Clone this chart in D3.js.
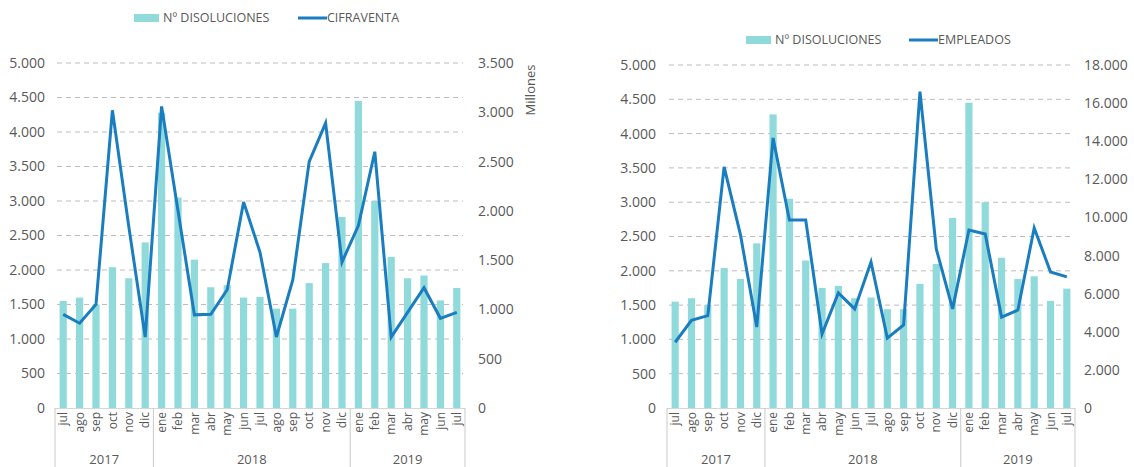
<!DOCTYPE html>
<html>
<head>
<meta charset="utf-8">
<script src="https://cdn.jsdelivr.net/npm/d3@7"></script>
<style>
  html, body { margin: 0; padding: 0; background: #fff; }
  svg { display: block; }
  text { font-family: "Open Sans", "Noto Sans", sans-serif; fill: #595959; }
</style>
</head>
<body>
<svg id="chart" width="1134" height="467"></svg>
<script>
// ---- data ----
const months = ["jul","ago","sep","oct","nov","dic","ene","feb","mar","abr","may","jun","jul","ago","sep","oct","nov","dic","ene","feb","mar","abr","may","jun","jul"];
const yearLabels = ["2017","2018","2019"];
const yearCounts = [6, 12, 7];
const disoluciones = [1550,1600,1500,2040,1880,2400,4280,3050,2150,1750,1780,1600,1610,1440,1440,1810,2100,2770,4450,3000,2190,1880,1920,1560,1740];
const cifraventa = [950,860,1050,3020,1840,720,3060,2000,945,950,1200,2090,1580,720,1300,2500,2890,1480,1850,2600,720,970,1220,910,970];
const empleados = [3450,4600,4850,12650,9100,4250,14170,9870,9870,3885,6040,5200,7660,3670,4360,16600,8350,5200,9340,9130,4770,5140,9450,7140,6880];
const leftTicks = [0,500,1000,1500,2000,2500,3000,3500,4000,4500,5000];
const cifraTicks = [0,500,1000,1500,2000,2500,3000,3500];
const empleadosTicks = [0,2000,4000,6000,8000,10000,12000,14000,16000,18000];
const barName = "Nº DISOLUCIONES";

const BAR = "#90dadc", LINE = "#1a7dc0", GRID = "#bdbdbd", SEP = "#c9c9c9";
const fmt = d3.formatLocale({decimal: ",", thousands: ".", grouping: [3], currency: ["", ""]}).format(",d");
const svg = d3.select("#chart");

function drawChart(cfg) {
  const g = svg.append("g");
  const x = d3.scaleBand().domain(d3.range(months.length)).range([cfg.x0, cfg.x1]).paddingInner(0.56).paddingOuter(0.28);
  const yL = d3.scaleLinear().domain([0, 5000]).range([cfg.yBottom, cfg.yTop]);
  const yR = d3.scaleLinear().domain([0, cfg.rightMax]).range([cfg.yBottom, cfg.yTop]);

  // gridlines
  g.append("g").selectAll("line").data(leftTicks.filter(d => d > 0)).join("line")
    .attr("x1", cfg.x0 + 2).attr("x2", cfg.x1 - 2)
    .attr("y1", d => yL(d)).attr("y2", d => yL(d))
    .attr("stroke", GRID).attr("stroke-width", 1).attr("stroke-dasharray", "5,4");

  // left axis labels
  const axL = d3.axisLeft(yL).tickValues(leftTicks).tickSize(0).tickPadding(0).tickFormat(fmt);
  const gl = g.append("g").attr("transform", `translate(${cfg.leftLabelX},0)`).call(axL);
  gl.select(".domain").remove();
  gl.selectAll("text").style("font-size", "14px").attr("fill", "#595959");

  // right axis labels
  const axR = d3.axisRight(yR).tickValues(cfg.rightTicks).tickSize(0).tickPadding(0).tickFormat(fmt);
  const gr = g.append("g").attr("transform", `translate(${cfg.rightLabelX},0)`).call(axR);
  gr.select(".domain").remove();
  gr.selectAll("text").style("font-size", "14px").attr("fill", "#595959");

  // bars
  g.append("g").selectAll("rect").data(disoluciones).join("rect")
    .attr("x", (d, i) => x(i)).attr("width", x.bandwidth())
    .attr("y", d => yL(d)).attr("height", d => yL(0) - yL(d))
    .attr("fill", BAR);

  // baseline
  g.append("line").attr("x1", cfg.x0).attr("x2", cfg.x1)
    .attr("y1", cfg.yBottom + 0.5).attr("y2", cfg.yBottom + 0.5)
    .attr("stroke", "#d6d6d6").attr("stroke-width", 1);

  // line
  const line = d3.line().x((d, i) => x(i) + x.bandwidth() / 2).y(d => yR(d));
  g.append("path").datum(cfg.lineData).attr("d", line)
    .attr("fill", "none").attr("stroke", LINE).attr("stroke-width", 3).attr("stroke-linejoin", "miter");

  // month labels
  g.append("g").selectAll("text").data(months).join("text")
    .attr("transform", (d, i) => `translate(${x(i) + x.bandwidth() / 2},${cfg.yBottom + 4}) rotate(-90)`)
    .attr("text-anchor", "end").attr("dy", "0.35em")
    .style("font-size", "12px").text(d => d);

  // year separators & labels
  const step = x.step();
  const start = x(0) - (x.step() - x.bandwidth()) / 2;
  let acc = 0;
  const bounds = [start];
  yearCounts.forEach(c => { acc += c; bounds.push(start + acc * step); });
  g.append("g").selectAll("line").data(bounds).join("line")
    .attr("x1", d => d).attr("x2", d => d)
    .attr("y1", cfg.yBottom).attr("y2", 467)
    .attr("stroke", SEP).attr("stroke-width", 1);
  g.append("g").selectAll("text").data(yearLabels).join("text")
    .attr("x", (d, i) => (bounds[i] + bounds[i + 1]) / 2).attr("y", 464)
    .attr("text-anchor", "middle").style("font-size", "13px").text(d => d);

  // legend
  const lg = g.append("g");
  lg.append("rect").attr("x", cfg.legX).attr("y", cfg.legY - 4).attr("width", 25).attr("height", 8).attr("fill", BAR);
  lg.append("text").attr("x", cfg.legX + 29).attr("y", cfg.legY).attr("dy", "0.35em")
    .style("font-size", "12.5px").text(barName);
  lg.append("line").attr("x1", cfg.legX2).attr("x2", cfg.legX2 + 29)
    .attr("y1", cfg.legY).attr("y2", cfg.legY).attr("stroke", LINE).attr("stroke-width", 3);
  lg.append("text").attr("x", cfg.legX2 + 29).attr("y", cfg.legY).attr("dy", "0.35em")
    .style("font-size", "12.5px").text(cfg.lineName);

  if (cfg.unit) {
    g.append("text").attr("transform", `translate(${cfg.unitX},${cfg.unitY}) rotate(-90)`)
      .attr("text-anchor", "middle").attr("dy", "0.35em").style("font-size", "13px").text(cfg.unit);
  }
}

drawChart({
  x0: 55, x1: 465, yTop: 63, yBottom: 408,
  rightMax: 3500, rightTicks: cifraTicks, lineData: cifraventa, lineName: "CIFRAVENTA",
  leftLabelX: 45, rightLabelX: 478,
  legX: 134, legX2: 298, legY: 18,
  unit: "Millones", unitX: 530, unitY: 90
});

drawChart({
  x0: 667, x1: 1075, yTop: 65, yBottom: 408,
  rightMax: 18000, rightTicks: empleadosTicks, lineData: empleados, lineName: "EMPLEADOS",
  leftLabelX: 656, rightLabelX: 1084,
  legX: 746, legX2: 909, legY: 40
});
</script>
</body>
</html>
